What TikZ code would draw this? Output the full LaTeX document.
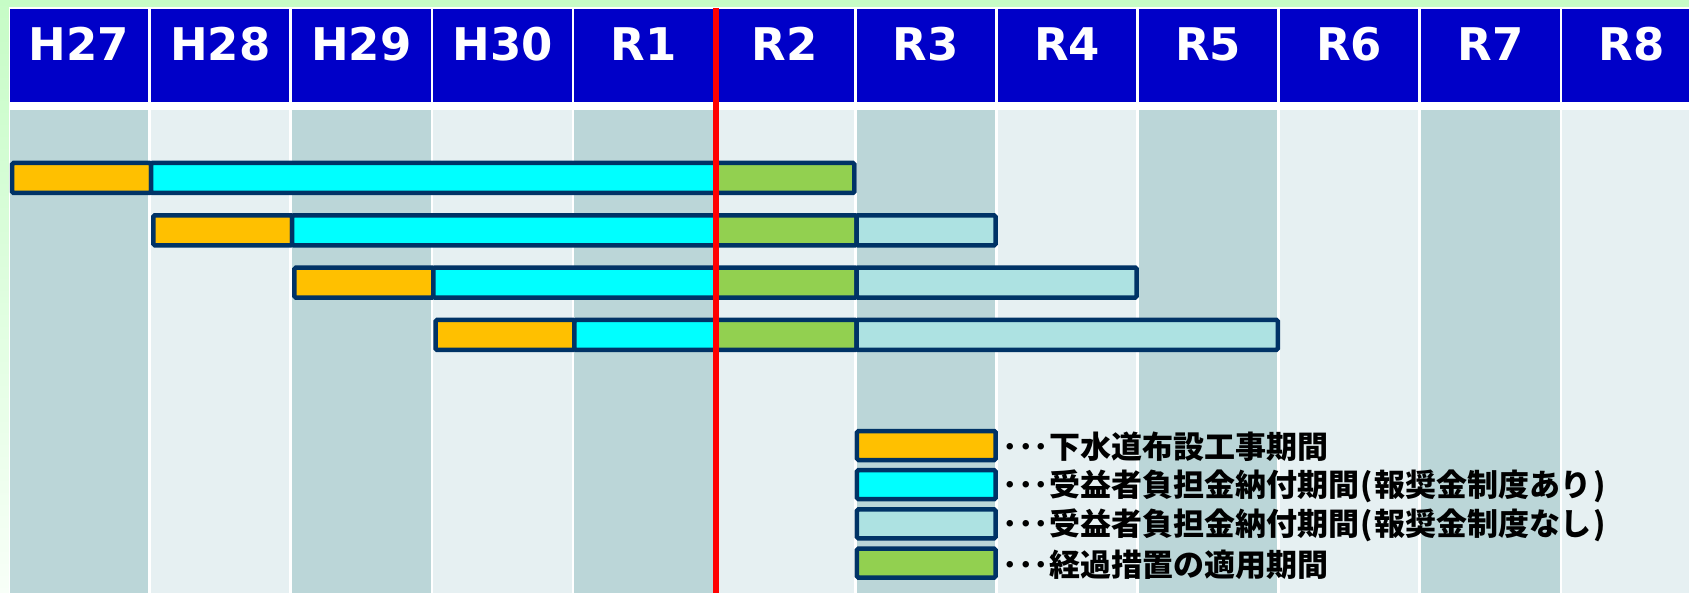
\documentclass[tikz,border=0pt]{standalone}
\usepackage{fontspec}
\newfontfamily\hdrfont{DejaVu Sans}
\newfontfamily\jpfont{Noto Sans CJK JP}
\definecolor{hblue}{HTML}{0000C8}
\definecolor{dstripe}{HTML}{BBD6D8}
\definecolor{lstripe}{HTML}{E6F0F2}
\definecolor{navy}{HTML}{003366}
\definecolor{borange}{HTML}{FFC000}
\definecolor{bcyan}{HTML}{00FFFF}
\definecolor{bgreen}{HTML}{92D050}
\definecolor{blcyan}{HTML}{ADE2E2}
\definecolor{bggreen}{HTML}{C6FCC6}
\definecolor{bgpale}{HTML}{F8FFF8}
\newcommand\hwp[1]{\makebox[0.5em]{#1}}
\tikzset{
  hcell/.style={fill=hblue, minimum width=138.4pt, minimum height=93pt, inner sep=0pt, outer sep=0pt, anchor=north west},
  hlabel/.style={text=white, font=\hdrfont\bfseries\fontsize{45}{45}\selectfont, anchor=base, inner sep=0pt},
  stripe/.style={minimum width=138.4pt, minimum height=483pt, inner sep=0pt, outer sep=0pt, anchor=north west},
  seg/.style={draw=navy, line width=4.5pt, rounded corners=1.5pt, minimum height=30pt, inner sep=0pt, outer sep=0pt, anchor=west},
  legbox/.style={draw=navy, line width=4.5pt, rounded corners=1.5pt, minimum width=138.7pt, minimum height=29pt, inner sep=0pt},
  legtext/.style={font=\jpfont\bfseries\fontsize{31}{31}\selectfont, anchor=west, inner sep=0pt},
  redline/.style={draw=red, line width=6pt},
}
\begin{document}
\begin{tikzpicture}[x=1pt,y=-1pt]
\useasboundingbox (0,0) rectangle (1689,593);
% background
\shade[top color=bggreen, bottom color=bgpale] (0,0) rectangle (1689,593);
\fill[white] (8.5,7.5) rectangle (1689,593);
% header cells
\foreach \t [count=\n from 0] in {H27,H28,H29,H30,R1,R2,R3,R4,R5,R6,R7,R8} {
  \pgfmathsetmacro\xl{9.9+141.13*\n}
  \node[hcell] (hd\n) at (\xl,9.3) {};
  \node[hlabel] (hl\n) at (\xl+69.2,61) {\t};
}
% body stripes
\foreach \n in {0,2,4,6,8,10} {
  \pgfmathsetmacro\xl{9.9+141.13*\n}
  \node[stripe, fill=dstripe] (st\n) at (\xl,110) {};
}
\foreach \n in {1,3,5,7,9,11} {
  \pgfmathsetmacro\xl{9.9+141.13*\n}
  \node[stripe, fill=lstripe] (st\n) at (\xl,110) {};
}
% bars
\foreach \r in {0,1,2,3} {
  \pgfmathsetmacro\yc{178+52.3*\r}
  \pgfmathsetmacro\pa{9.9+141.13*\r+2.25}
  \pgfmathsetmacro\pb{9.9+141.13*(\r+1)}
  \pgfmathsetmacro\pc{9.9+141.13*5}
  \pgfmathsetmacro\pd{9.9+141.13*6}
  \pgfmathsetmacro\pe{9.9+141.13*(6+\r)-2.25}
  \pgfmathsetmacro\wo{\pb-\pa}
  \pgfmathsetmacro\wc{\pc-\pb}
  \node[seg, fill=borange, minimum width=\wo pt] (or\r) at (\pa,\yc) {};
  \node[seg, fill=bcyan, minimum width=\wc pt] (cy\r) at (\pb,\yc) {};
  \ifnum\r>0
    \pgfmathsetmacro\wg{\pd-\pc}
    \pgfmathsetmacro\wl{\pe-\pd}
    \node[seg, fill=bgreen, minimum width=\wg pt] (gr\r) at (\pc,\yc) {};
    \node[seg, fill=blcyan, minimum width=\wl pt] (lc\r) at (\pd,\yc) {};
  \else
    \pgfmathsetmacro\wg{\pd-2.25-\pc}
    \node[seg, fill=bgreen, minimum width=\wg pt] (gr\r) at (\pc,\yc) {};
  \fi
}
% red line
\coordinate (rtop) at (716.3,8);
\coordinate (rbot) at (716.3,593);
\draw[redline] (rtop) -- (rbot);
% legend
\node[legbox, fill=borange] (lg1) at (926.3,445.5) {};
\node[legbox, fill=bcyan]   (lg2) at (926.3,484.7) {};
\node[legbox, fill=blcyan]  (lg3) at (926.3,523.9) {};
\node[legbox, fill=bgreen]  (lg4) at (926.3,563.1) {};
\node[legtext] (lt1) at (1002.6,447) {･･･下水道布設工事期間};
\node[legtext] (lt2) at (1002.6,486.2) {･･･受益者負担金納付期間\hwp{(}報奨金制度あり\hwp{)}};
\node[legtext] (lt3) at (1002.6,525.4) {･･･受益者負担金納付期間\hwp{(}報奨金制度なし\hwp{)}};
\node[legtext] (lt4) at (1002.6,564.6) {･･･経過措置の適用期間};
\end{tikzpicture}
\end{document}
